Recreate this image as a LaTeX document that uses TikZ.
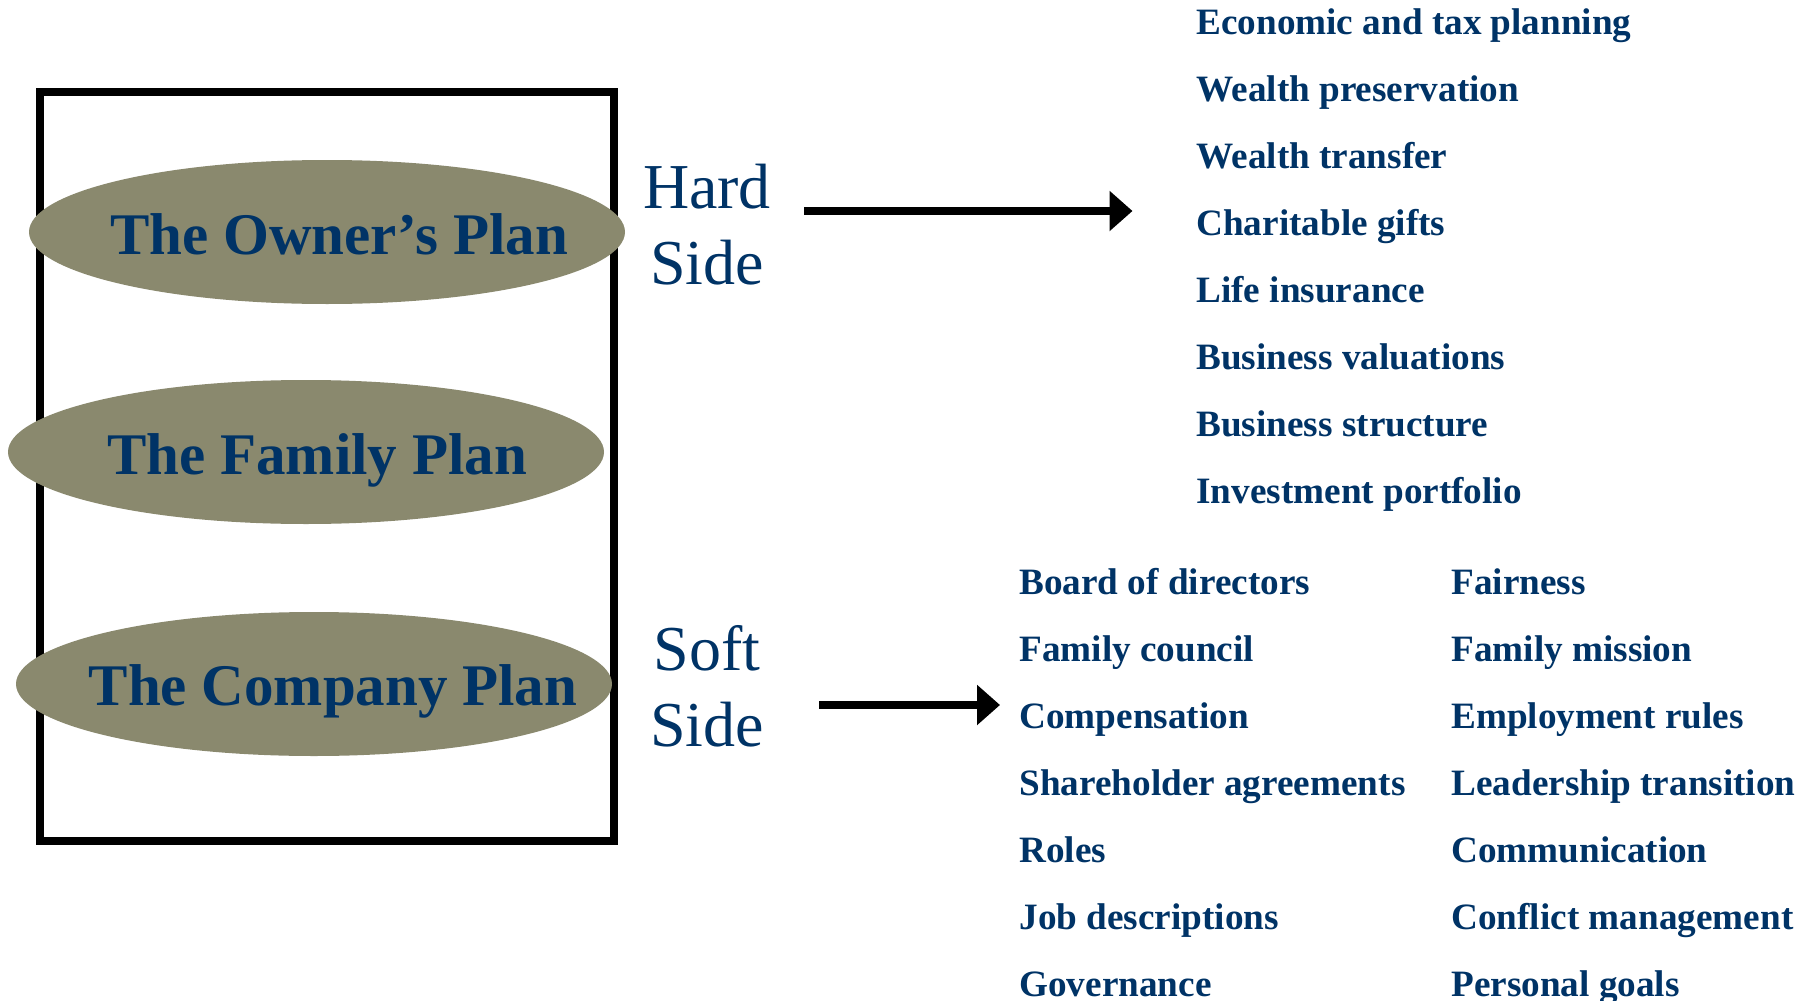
\documentclass[tikz,border=0pt]{standalone}
\usepackage{fontspec}
\setmainfont{Liberation Serif}
\usetikzlibrary{arrows.meta,shapes.geometric}
\definecolor{plannavy}{RGB}{0,51,102}
\definecolor{planolive}{RGB}{138,137,110}

\begin{document}
\begin{tikzpicture}[x=0.5pt,y=-0.5pt,
  frame/.style={draw, line width=4.1pt, minimum width=287pt, minimum height=374.5pt, inner sep=0pt},
  plan/.style={ellipse, fill=planolive, minimum width=298pt, minimum height=72pt, inner sep=0pt},
  plantext/.style={anchor=base, text=plannavy, inner sep=0pt,
    font=\bfseries\fontsize{29.5}{34}\selectfont},
  sidetext/.style={anchor=base, text=plannavy, inner sep=0pt,
    font=\fontsize{32}{38}\selectfont},
  item/.style={anchor=base west, text=plannavy, inner sep=0pt,
    font=\bfseries\fontsize{18.6}{22}\selectfont},
  link/.style={line width=3.8pt, -{Triangle[length=11.5pt,width=19.5pt]}}
]
\useasboundingbox (0,0) rectangle (1812,1001);

% outer frame behind the three plans
\node[frame] (box) at (327,466.5) {};

% the three plans
\node[plan] (owner) at (327,232) {};
\node[plan] (family) at (306,452) {};
\node[plan] (company) at (314,684) {};
\node[plantext] (ownerT) at (339,254) {The Owner’s Plan};
\node[plantext] (familyT) at (317,474) {The Family Plan};
\node[plantext] (companyT) at (333,705) {The Company Plan};

% side labels
\node[sidetext] (hard1) at (707,208) {Hard};
\node[sidetext] (hard2) at (707,284) {Side};
\node[sidetext] (soft1) at (707,670) {Soft};
\node[sidetext] (soft2) at (707,746.5) {Side};

% arrows
\coordinate (hardA) at (804,211);
\coordinate (hardB) at (1132.5,211);
\coordinate (softA) at (819,705);
\coordinate (softB) at (1000,705);
\draw[link] (hardA) -- (hardB);
\draw[link] (softA) -- (softB);

% hard side topics
\foreach \t [count=\i] in {Economic and tax planning, Wealth preservation,
    Wealth transfer, Charitable gifts, Life insurance, Business valuations,
    Business structure, Investment portfolio}
  \node[item] (h\i) at (1196,{34.7+67*(\i-1)}) {\t};

% soft side topics, two columns
\foreach \t [count=\i] in {Board of directors, Family council, Compensation,
    Shareholder agreements, Roles, Job descriptions, Governance}
  \node[item] (sa\i) at (1019,{594+67*(\i-1)}) {\t};
\foreach \t [count=\i] in {Fairness, Family mission, Employment rules,
    Leadership transition, Communication, Conflict management, Personal goals}
  \node[item] (sb\i) at (1451,{594+67*(\i-1)}) {\t};
\end{tikzpicture}
\end{document}
